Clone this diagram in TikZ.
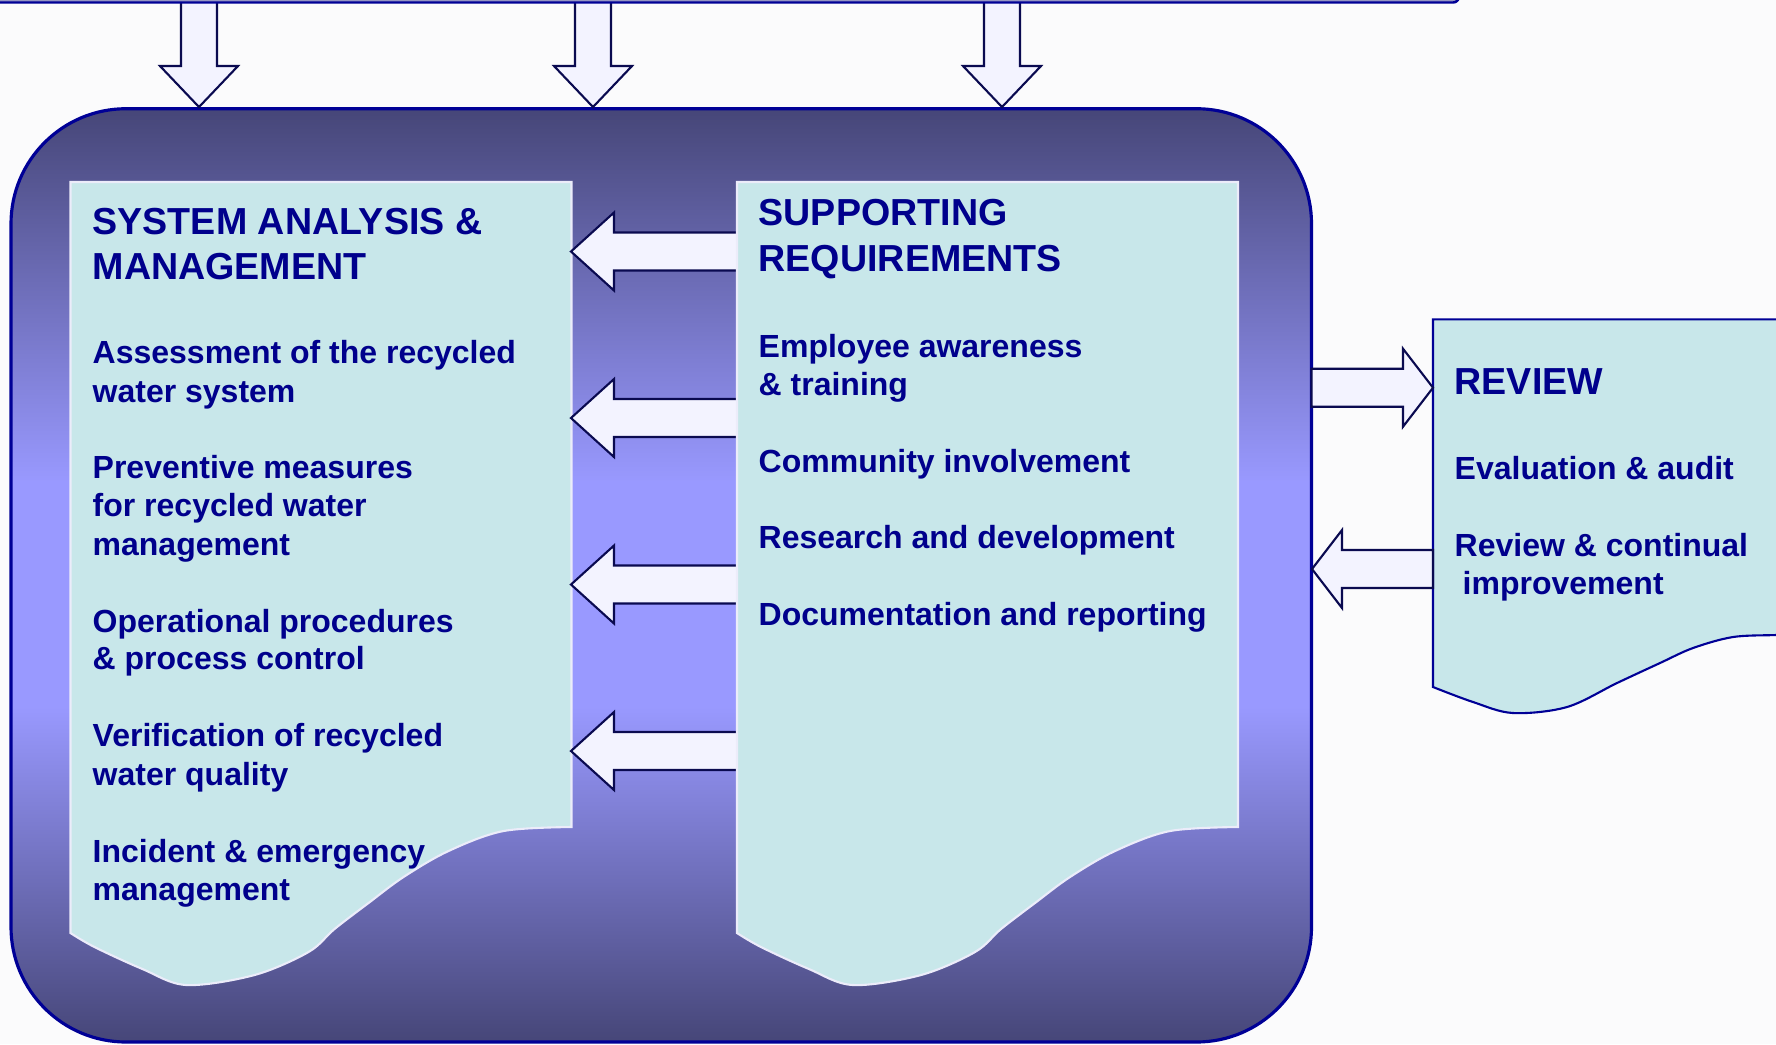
\documentclass[tikz,border=0pt]{standalone}
\usepackage{fontspec}
\setmainfont{Liberation Sans}
\definecolor{bg}{RGB}{251,251,252}
\definecolor{navy}{RGB}{0,0,150}
\definecolor{txt}{RGB}{0,0,140}
\definecolor{panel}{RGB}{200,231,234}
\definecolor{gdark}{RGB}{70,70,120}
\definecolor{glight}{RGB}{153,153,255}
\definecolor{arrfill}{RGB}{243,243,255}
\definecolor{arrline}{RGB}{10,10,80}
\definecolor{panelline}{RGB}{236,236,250}
\definecolor{barfill}{RGB}{150,150,195}
\pgfdeclareverticalshading{bigshade}{100bp}{color(0bp)=(gdark); color(25bp)=(gdark); color(43bp)=(glight); color(55bp)=(glight); color(75bp)=(gdark); color(100bp)=(gdark)}
\tikzset{
  barrow/.style={fill=arrfill, draw=arrline, line width=0.6pt, line join=miter},
  ttl/.style={font=\bfseries\fontsize{10.7}{12.8}\selectfont, text=txt, anchor=base west, inner sep=0pt},
  bdy/.style={font=\bfseries\fontsize{9.1}{10.9}\selectfont, text=txt, anchor=base west, inner sep=0pt},
  panelbox/.style={fill=panel, draw=panelline, line width=0.6pt},
}
\newcommand\BArrowD[2]{%
  \draw[barrow] (#1,#2) -- (#1-39,#2-41) -- (#1-18,#2-41) -- (#1-18,-10) -- (#1+18,-10) -- (#1+18,#2-41) -- (#1+39,#2-41) -- cycle;}
\newcommand\BArrowLeft[4]{%
  \draw[barrow] (#1,#2) -- (#1+#4,#2-39) -- (#1+#4,#2-19) -- (#3,#2-19) -- (#3,#2+19) -- (#1+#4,#2+19) -- (#1+#4,#2+39) -- cycle;}
\newcommand\BArrowRight[4]{%
  \draw[barrow] (#1,#2) -- (#1-#4,#2-39) -- (#1-#4,#2-19) -- (#3,#2-19) -- (#3,#2+19) -- (#1-#4,#2+19) -- (#1-#4,#2+39) -- cycle;}
\newcommand\PanelShape{%
  (0,182) -- (501,182) -- (501,827) -- plot[smooth,tension=0.55] coordinates {(501,827)(433,831)(378,851)(333,877)(298,903)(264,929)(238,952)(184,975)(116,985)(72,969)(24,947)(0,933)} -- cycle}
\begin{document}
\begin{tikzpicture}[x=0.01cm,y=-0.01cm]
\useasboundingbox (0,0) rectangle (1776,1044);
\fill[bg] (0,0) rectangle (1776,1044);

% big rounded frame
\path[shading=bigshade, draw=navy, line width=0.9pt, rounded corners=1.15cm] (11,108.7) rectangle (1311.5,1042);

% left panel
\begin{scope}[shift={(70.5,0)}]
\path[panelbox] \PanelShape;
\end{scope}

% arrows from supporting to system analysis
\BArrowLeft{571}{251.5}{745}{43}
\BArrowLeft{571}{418}{745}{43}
\BArrowLeft{571}{584.5}{745}{43}
\BArrowLeft{571}{751}{745}{43}

% right panel
\begin{scope}[shift={(737,0)}]
\path[panelbox] \PanelShape;
\end{scope}

% review panel
\path[fill=panel, draw=navy, line width=0.6pt] (1800,319.3) -- (1433,319.3) -- (1433,687) -- plot[smooth,tension=0.55] coordinates {(1433,687)(1473,702)(1513,713)(1567,707)(1617,683)(1660,663)(1693,648)(1733,637)(1776,635)(1800,634)} -- cycle;

% arrows to and from review
\BArrowRight{1433}{387.7}{1311.5}{30}
\BArrowLeft{1312}{569}{1433}{30}

% down arrows
\BArrowD{199}{107}
\BArrowD{593}{107}
\BArrowD{1002}{107}

% top bar
\path[fill=barfill, draw=navy, line width=0.7pt, rounded corners=0.06cm] (-30,-60) rectangle (1459,2.5);

% left panel text
\node[ttl] (lt1) at (92,234) {SYSTEM ANALYSIS \&};
\node[ttl] (lt2) at (92,279) {MANAGEMENT};
\node[bdy] (l1a) at (92,363.5) {Assessment of the recycled};
\node[bdy] (l1b) at (92,402) {water system};
\node[bdy] (l2a) at (92,478) {Preventive measures};
\node[bdy] (l2b) at (92,516.5) {for recycled water};
\node[bdy] (l2c) at (92,555) {management};
\node[bdy] (l3a) at (92,632) {Operational procedures};
\node[bdy] (l3b) at (92,669.5) {\& process control};
\node[bdy] (l4a) at (92,746.5) {Verification of recycled};
\node[bdy] (l4b) at (92,785) {water quality};
\node[bdy] (l5a) at (92,862) {Incident \& emergency};
\node[bdy] (l5b) at (92,900.5) {management};

% right panel text
\node[ttl] (rt1) at (758,225) {SUPPORTING};
\node[ttl] (rt2) at (758,271) {REQUIREMENTS};
\node[bdy] (r1a) at (758,357) {Employee awareness};
\node[bdy] (r1b) at (758,395) {\& training};
\node[bdy] (r2) at (758,472.5) {Community involvement};
\node[bdy] (r3) at (758,548.4) {Research and development};
\node[bdy] (r4) at (758,625.4) {Documentation and reporting};

% review text
\node[ttl] (vt) at (1454,394.5) {REVIEW};
\node[bdy] (v1) at (1454,479.5) {Evaluation \& audit};
\node[bdy] (v2a) at (1454,556.5) {Review \& continual};
\node[bdy] (v2b) at (1462,594) {improvement};
\end{tikzpicture}
\end{document}
